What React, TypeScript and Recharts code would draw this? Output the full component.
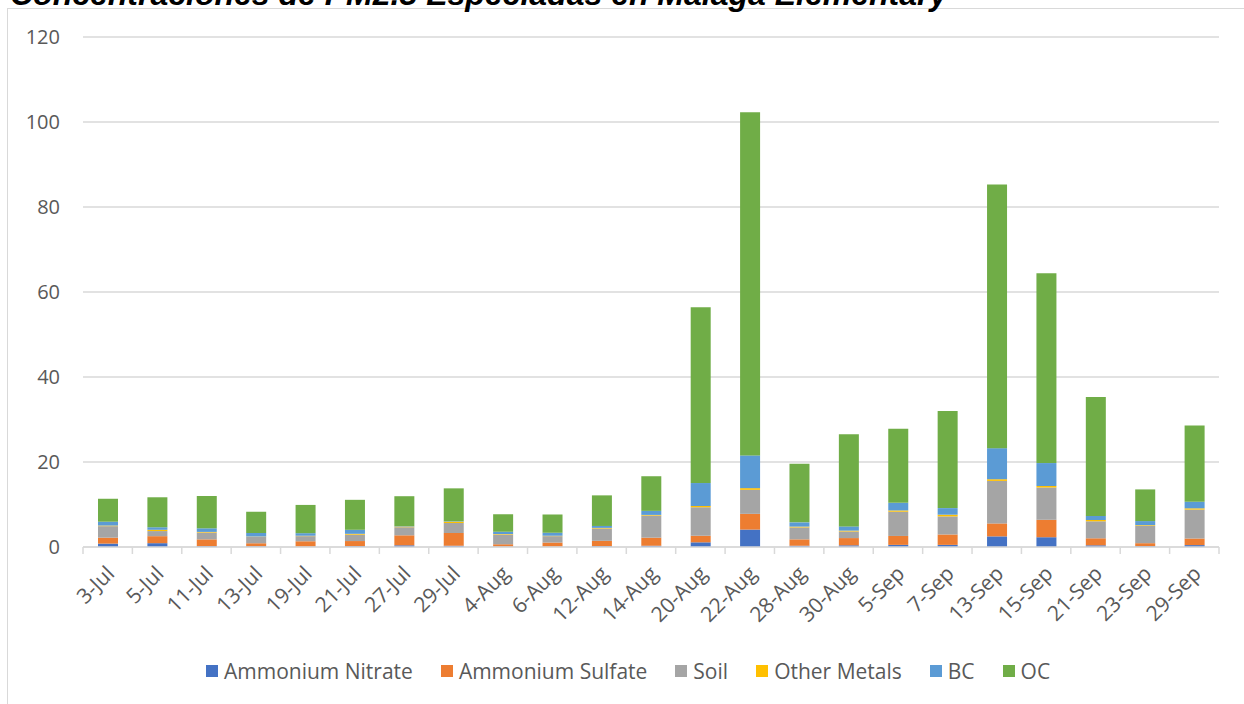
import React from 'react';
import { BarChart, Bar, XAxis, YAxis, CartesianGrid } from 'recharts';

const categories = [
  '3-Jul', '5-Jul', '11-Jul', '13-Jul', '19-Jul', '21-Jul', '27-Jul', '29-Jul',
  '4-Aug', '6-Aug', '12-Aug', '14-Aug', '20-Aug', '22-Aug', '28-Aug', '30-Aug',
  '5-Sep', '7-Sep', '13-Sep', '15-Sep', '21-Sep', '23-Sep', '29-Sep',
];

const ammoniumNitrate = [0.8, 0.9, 0.2, 0.2, 0.1, 0.2, 0.4, 0.3, 0.1, 0.1, 0.2, 0.3, 1.1, 4.1, 0.3, 0.4, 0.5, 0.5, 2.5, 2.3, 0.4, 0.2, 0.45];
const ammoniumSulfate = [1.4, 1.65, 1.6, 0.7, 1.25, 1.2, 2.35, 3.0, 0.55, 0.95, 1.25, 1.9, 1.55, 3.7, 1.5, 1.7, 2.1, 2.45, 3.05, 4.1, 1.65, 0.7, 1.55];
const soil = [2.7, 1.2, 1.6, 1.5, 1.2, 1.5, 1.9, 2.35, 2.3, 1.5, 2.9, 5.2, 6.7, 5.65, 2.8, 1.55, 5.7, 4.25, 10.0, 7.6, 4.0, 4.1, 6.8];
const otherMetals = [0.15, 0.3, 0.15, 0.1, 0.1, 0.2, 0.15, 0.3, 0.1, 0.1, 0.15, 0.15, 0.3, 0.4, 0.2, 0.2, 0.3, 0.4, 0.4, 0.35, 0.3, 0.15, 0.3];
const bc = [0.9, 0.6, 0.85, 0.8, 0.6, 0.95, 0.1, 0.1, 0.55, 0.7, 0.45, 0.95, 5.4, 7.7, 1.0, 1.0, 1.8, 1.55, 7.3, 5.4, 0.95, 0.95, 1.55];
const oc = [5.4, 7.05, 7.6, 5.0, 6.65, 7.05, 7.05, 7.75, 4.1, 4.3, 7.2, 8.15, 41.35, 80.75, 13.8, 21.7, 17.4, 22.85, 62.05, 44.65, 28.0, 7.45, 17.95];

const yTicks = [0, 20, 40, 60, 80, 100, 120];

const series = [
  { key: 'Ammonium Nitrate', values: ammoniumNitrate, color: '#4472C4' },
  { key: 'Ammonium Sulfate', values: ammoniumSulfate, color: '#ED7D31' },
  { key: 'Soil', values: soil, color: '#A5A5A5' },
  { key: 'Other Metals', values: otherMetals, color: '#FFC000' },
  { key: 'BC', values: bc, color: '#5B9BD5' },
  { key: 'OC', values: oc, color: '#70AD47' },
];

const chartData = categories.map((name, i) => {
  const row: Record<string, string | number> = { name };
  series.forEach(s => { row[s.key] = s.values[i]; });
  return row;
});

const W = 1244;
const H = 704;
const margin = { top: 37, right: 25, left: 0, bottom: 57 };
const yAxisWidth = 83;
const plotWidth = W - margin.left - margin.right - yAxisWidth;
const font = '"Open Sans", sans-serif';
const textColor = '#595959';
const lineColor = '#d9d9d9';

const XTick = (props: any) => {
  const { x, y, payload, index } = props;
  const band = plotWidth / categories.length;
  const tx = x + 8;
  const ty = y + 28;
  return (
    <g>
      <line x1={x - band / 2} y1={y} x2={x - band / 2} y2={y + 7} stroke={lineColor} strokeWidth={1.5} />
      {index === categories.length - 1 && (
        <line x1={x + band / 2} y1={y} x2={x + band / 2} y2={y + 7} stroke={lineColor} strokeWidth={1.5} />
      )}
      <text
        x={tx}
        y={ty}
        textAnchor="end"
        transform={`rotate(-45, ${tx}, ${ty})`}
        fill={textColor}
        fontSize={21}
        fontFamily={font}
      >
        {payload.value}
      </text>
    </g>
  );
};

const App: React.FC = () => {
  return (
    <div style={{ position: 'absolute', left: 0, top: 0, width: W, height: H, overflow: 'hidden', background: '#fff' }}>
      <div style={{ position: 'absolute', left: 7, top: 8, width: W + 20, height: H + 20, border: `1.5px solid ${lineColor}` }} />
      <svg style={{ position: 'absolute', left: 0, top: 0 }} width={W} height={20}>
        <text x={10} y={5} fontSize={32} fontWeight="bold" fontStyle="italic" fontFamily='"Liberation Sans", Arial, sans-serif' fill="#000">
          Concentraciones de PM2.5 Especiadas en Malaga Elementary
        </text>
      </svg>
      <div style={{ position: 'absolute', left: 0, top: 0 }}>
        <BarChart width={W} height={H} data={chartData} margin={margin} barSize={20}>
          <CartesianGrid vertical={false} stroke={lineColor} strokeWidth={1.5} />
          <XAxis
            dataKey="name"
            interval={0}
            height={100}
            tickLine={false}
            tickSize={0}
            tickMargin={0}
            axisLine={{ stroke: lineColor, strokeWidth: 1.5 }}
            tick={<XTick />}
          />
          <YAxis
            width={yAxisWidth}
            domain={[0, 120]}
            ticks={yTicks}
            axisLine={false}
            tickLine={false}
            tickSize={0}
            tickMargin={23}
            tick={{ fill: textColor, fontSize: 20, fontFamily: font }}
          />
          {series.map(s => (
            <Bar key={s.key} dataKey={s.key} stackId="a" fill={s.color} isAnimationActive={false} />
          ))}
        </BarChart>
      </div>
      <div
        style={{
          position: 'absolute', left: 206, top: 657, display: 'flex', alignItems: 'center',
          fontFamily: font, fontSize: 21, color: textColor, whiteSpace: 'nowrap',
        }}
      >
        {series.map(s => (
          <div key={s.key} style={{ display: 'flex', alignItems: 'center', marginRight: 28 }}>
            <span style={{ display: 'inline-block', width: 12, height: 12, background: s.color, marginRight: 6 }} />
            <span>{s.key}</span>
          </div>
        ))}
      </div>
    </div>
  );
};

export default App;
